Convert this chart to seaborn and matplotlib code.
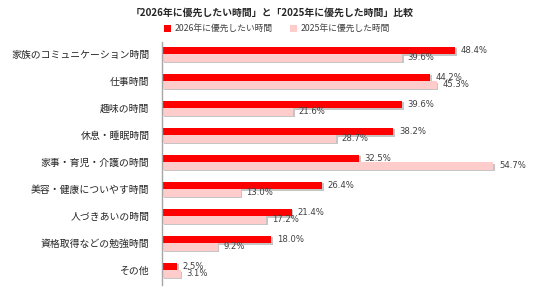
import matplotlib
matplotlib.use("Agg")
import matplotlib.pyplot as plt
import matplotlib.patheffects as pe
from matplotlib.patches import Patch
import seaborn as sns
import pandas as pd

categories = ["家族のコミュニケーション時間", "仕事時間", "趣味の時間", "休息・睡眠時間",
              "家事・育児・介護の時間", "美容・健康についやす時間", "人づきあいの時間",
              "資格取得などの勉強時間", "その他"]
series_names = ["2026年に優先したい時間", "2025年に優先した時間"]
values_2026 = [48.4, 44.2, 39.6, 38.2, 32.5, 26.4, 21.4, 18.0, 2.5]
values_2025 = [39.6, 45.3, 21.6, 28.7, 54.7, 13.0, 17.2, 9.2, 3.1]
title = "「2026年に優先したい時間」と「2025年に優先した時間」比較"

colors = ["#FF0000", "#FFCCCC"]

sns.set_style("white")
plt.rcParams["font.family"] = ["Noto Sans CJK JP", "DejaVu Sans"]

df = pd.DataFrame({
    "category": categories * 2,
    "value": values_2026 + values_2025,
    "series": [series_names[0]] * len(categories) + [series_names[1]] * len(categories),
})

W, H = 536, 292
fig = plt.figure(figsize=(W / 100, H / 100), dpi=100)
ax = fig.add_axes([162 / W, 1 - 285 / H, 368 / W, 243 / H])

sns.barplot(data=df, y="category", x="value", hue="series", orient="h",
            palette=colors, width=0.55, ax=ax, legend=False, errorbar=None,
            order=categories, hue_order=series_names, saturation=1)

shadow = [pe.SimplePatchShadow(offset=(1.2, -1.2), shadow_rgbFace="#808080", alpha=0.45), pe.Normal()]
for p in ax.patches:
    p.set_edgecolor("none")
    p.set_path_effects(shadow)

for cont in ax.containers:
    ax.bar_label(cont, labels=[f"{v:.1f}%" for v in cont.datavalues], padding=4,
                 fontsize=6.1, color="#404040", family="DejaVu Sans")

ax.set_xlim(0, 368 / 6.06)
ax.set_ylim(8.55, -0.45)
ax.set_xlabel("")
ax.set_ylabel("")
ax.set_xticks([])
ax.tick_params(axis="y", length=0, pad=9, labelsize=7.1, labelcolor="#262626")
for s in ["top", "right", "bottom"]:
    ax.spines[s].set_visible(False)
ax.spines["left"].set_color("#A6A6A6")
ax.spines["left"].set_linewidth(1.0)

fig.text(272 / W, 1 - 13 / H, title, ha="center", va="center", fontsize=7.1,
         fontweight="bold", color="#262626")

handles = [Patch(facecolor=c, edgecolor="none") for c in colors]
fig.legend(handles, series_names, loc="center", bbox_to_anchor=(277 / W, 1 - 29 / H),
           ncol=2, frameon=False, fontsize=6.3, handlelength=0.75, handleheight=0.75,
           handletextpad=0.4, columnspacing=2.0, labelcolor="#404040")

fig.savefig("out.png", dpi=100)
